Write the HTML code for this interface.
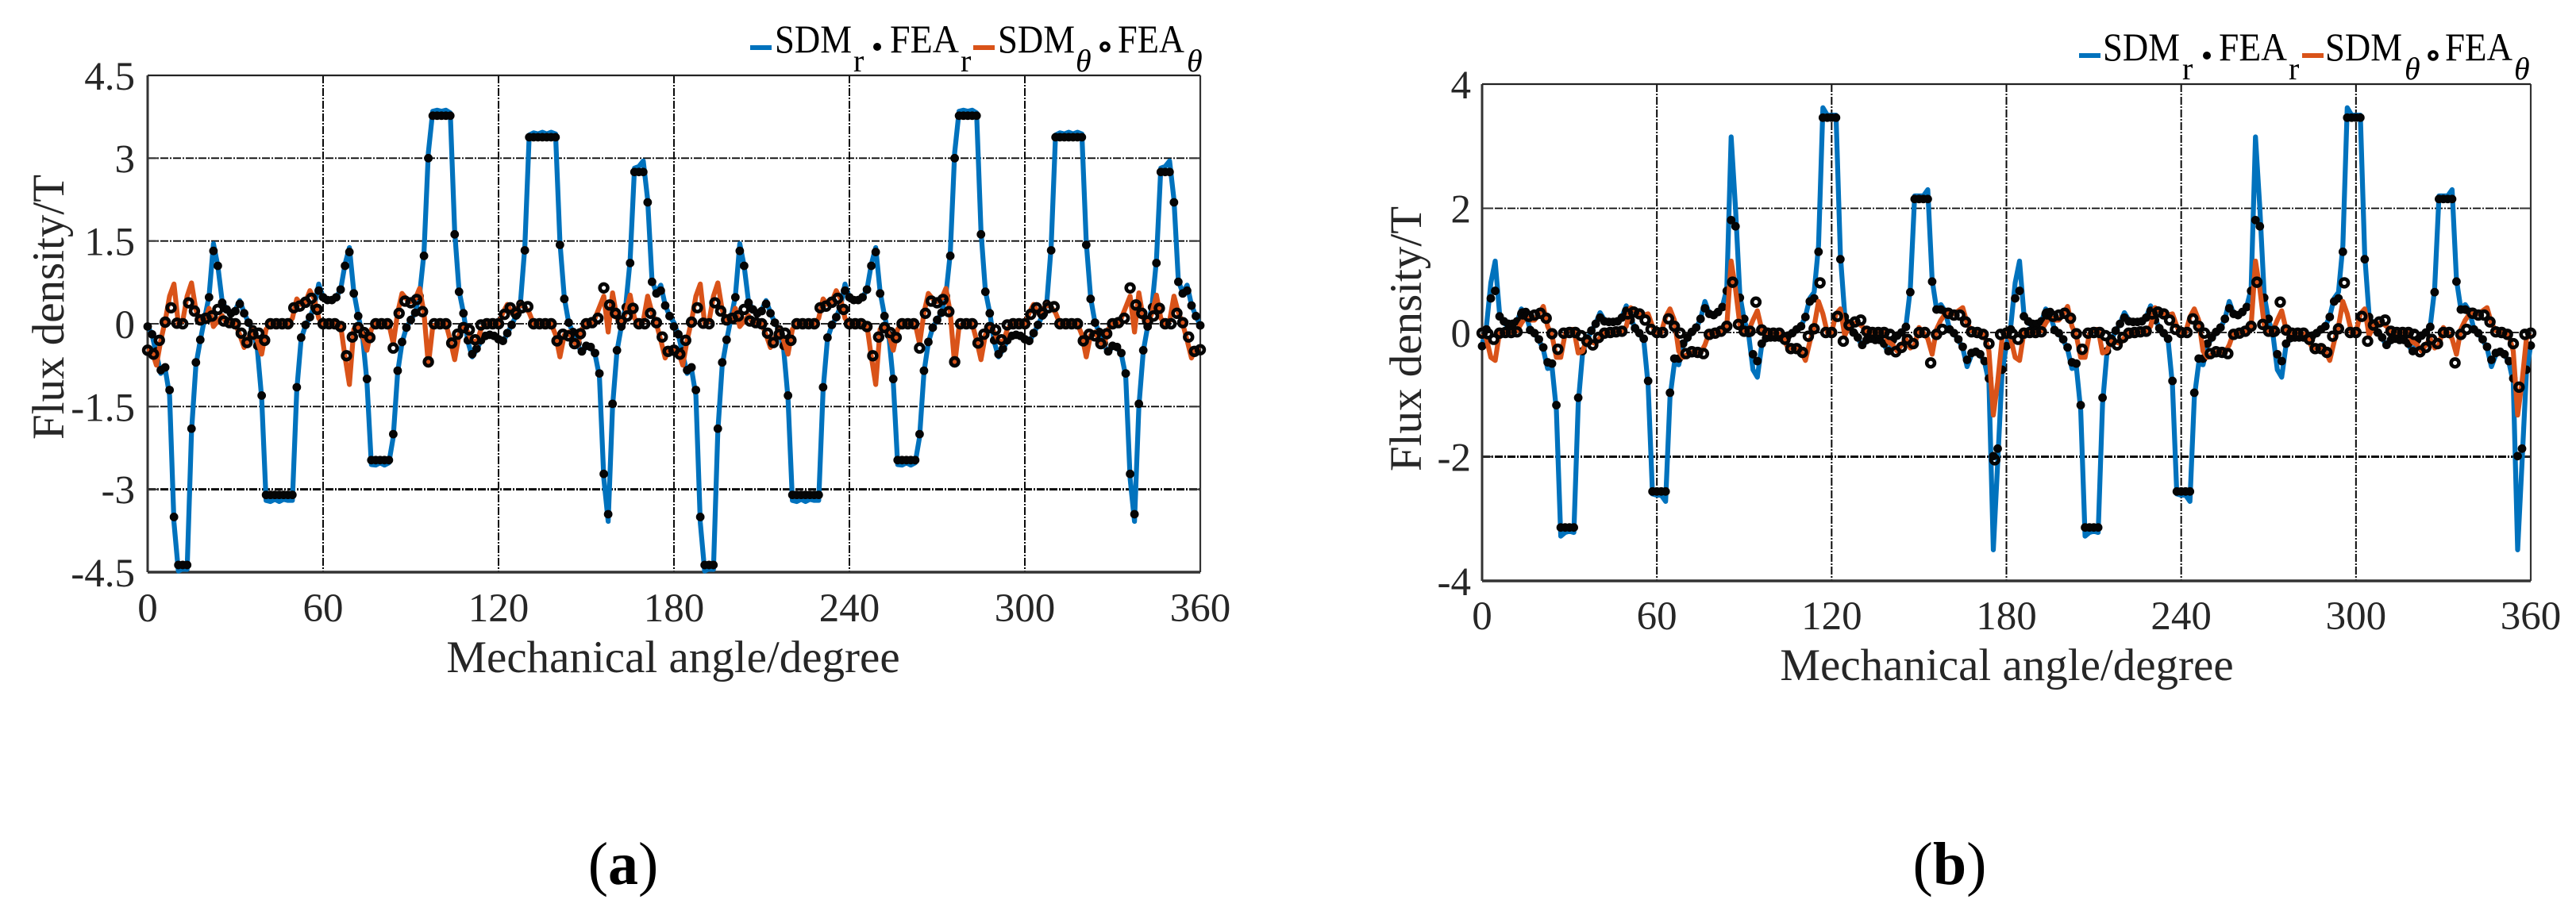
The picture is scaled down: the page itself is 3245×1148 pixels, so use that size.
<!DOCTYPE html>
<html lang="en">
<head>
<meta charset="utf-8">
<title>Flux density charts</title>
<style>
html,body{margin:0;padding:0;background:#fff;}
svg{display:block;font-family:"Liberation Serif",serif;}
.tk{font-size:51px;fill:#262626;}
.ttl{font-size:57px;fill:#262626;}
.lg{font-size:50px;fill:#000;}
.lgs{font-size:40px;fill:#000;}
.lgt{font-size:40px;fill:#000;font-style:italic;}
.cap{font-size:76px;fill:#000;}
</style>
</head>
<body>
<svg id="figure" xmlns="http://www.w3.org/2000/svg" width="3245" height="1148" viewBox="0 0 3245 1148">
<rect width="3245" height="1148" fill="#fff"/>
<g id="chartA"></g>
<g id="chartB"></g>

<g>
<rect x="945" y="57" width="27" height="6" fill="#0072bd"/>
<text class="lg" x="976" y="66" textLength="97" lengthAdjust="spacingAndGlyphs">SDM</text>
<text class="lgs" x="1075" y="90">r</text>
<circle cx="1105" cy="59" r="5" fill="#000"/>
<text class="lg" x="1121" y="66" textLength="87" lengthAdjust="spacingAndGlyphs">FEA</text>
<text class="lgs" x="1210" y="90">r</text>
<rect x="1226" y="57" width="27" height="6" fill="#d95319"/>
<text class="lg" x="1257" y="66" textLength="97" lengthAdjust="spacingAndGlyphs">SDM</text>
<text class="lgt" x="1355" y="90">θ</text>
<circle cx="1392" cy="59" r="4.8" fill="none" stroke="#000" stroke-width="4"/>
<text class="lg" x="1408" y="66" textLength="84" lengthAdjust="spacingAndGlyphs">FEA</text>
<text class="lgt" x="1495" y="90">θ</text>
</g>

<g>
<rect x="2619" y="67" width="27" height="6" fill="#0072bd"/>
<text class="lg" x="2649" y="76" textLength="97" lengthAdjust="spacingAndGlyphs">SDM</text>
<text class="lgs" x="2749" y="100">r</text>
<circle cx="2780" cy="70" r="5" fill="#000"/>
<text class="lg" x="2795" y="76" textLength="86" lengthAdjust="spacingAndGlyphs">FEA</text>
<text class="lgs" x="2883" y="100">r</text>
<rect x="2900" y="67" width="27" height="6" fill="#d95319"/>
<text class="lg" x="2929" y="76" textLength="97" lengthAdjust="spacingAndGlyphs">SDM</text>
<text class="lgt" x="3029" y="100">θ</text>
<circle cx="3065" cy="70" r="4.8" fill="none" stroke="#000" stroke-width="4"/>
<text class="lg" x="3080" y="76" textLength="85" lengthAdjust="spacingAndGlyphs">FEA</text>
<text class="lgt" x="3167" y="100">θ</text>
</g>

<text class="cap" x="785" y="1114" text-anchor="middle">(<tspan font-weight="bold">a</tspan>)</text>
<text class="cap" x="2456" y="1114" text-anchor="middle">(<tspan font-weight="bold">b</tspan>)</text>
</svg>

<script>
const xTickLabels = [0,60,120,180,240,300,360];
const yTicksA = [4.5,3,1.5,0,-1.5,-3,-4.5];
const yTicksB = [4,2,0,-2,-4];
const lineStepDeg = 1.5;
const feaRStepDeg = 1.5;
const feaThetaStepDeg = 2;

const sdmRA = [
-.03,-.2,-.55,-.9,-.82,-1.3,-3.6,-4.48,-4.44,-4.45,-1.95,-.75,-.3,.1,.5,1.45,1.05,.4,.26,.2,.25,.42,.2,.02,-.12,-.45,-1.35,-3.2,-3.22,-3.18,-3.22,-3.18,-3.2,-3.2,-1.2,-.27,-.03,.12,.32,.72,.48,.43,.43,.48,.62,1.08,1.38,.58,.15,-.22,-1.05,-2.55,-2.56,-2.52,-2.56,-2.52,-2.05,-.88,-.34,-.07,.07,.2,.52,1.28,3.1,3.85,3.87,3.85,3.87,3.82,1.68,.6,.2,-.32,-.6,-.47,-.31,-.22,-.2,-.22,-.29,-.33,-.18,-.02,.15,.38,1.4,3.42,3.46,3.44,3.47,3.44,3.47,3.44,1.48,.47,.02,-.16,-.37,-.53,-.41,-.43,-.55,-.95,-2.8,-3.58,-1.5,-.5,-.05,.32,1.15,2.82,2.85,2.95,2.25,.78,.56,.7,.34,.14,
.02,-.2,-.55,-.9,-.82,-1.3,-3.6,-4.48,-4.44,-4.45,-1.95,-.75,-.3,.1,.5,1.45,1.05,.4,.26,.2,.25,.42,.2,.02,-.12,-.45,-1.35,-3.2,-3.22,-3.18,-3.22,-3.18,-3.2,-3.2,-1.2,-.27,-.03,.12,.32,.72,.48,.43,.43,.48,.62,1.08,1.38,.58,.15,-.22,-1.05,-2.55,-2.56,-2.52,-2.56,-2.52,-2.05,-.88,-.34,-.07,.07,.2,.52,1.28,3.1,3.85,3.87,3.85,3.87,3.82,1.68,.6,.2,-.32,-.6,-.47,-.31,-.22,-.2,-.22,-.29,-.33,-.18,-.02,.15,.38,1.4,3.42,3.46,3.44,3.47,3.44,3.47,3.44,1.48,.47,.02,-.16,-.37,-.53,-.41,-.43,-.55,-.95,-2.8,-3.58,-1.5,-.5,-.05,.32,1.15,2.82,2.85,2.95,2.25,.78,.56,.7,.34,.14,-.03
];
const feaRA = [
-.05,-.19,-.5,-.84,-.79,-1.2,-3.5,-4.37,-4.37,-4.37,-1.9,-.7,-.29,.12,.48,1.32,1.05,.38,.26,.19,.23,.36,.19,.02,-.1,-.4,-1.3,-3.1,-3.1,-3.1,-3.1,-3.1,-3.1,-3.1,-1.15,-.25,-.02,.12,.3,.6,.48,.43,.43,.48,.62,1.05,1.3,.55,.14,-.2,-1,-2.47,-2.47,-2.47,-2.47,-2.47,-2,-.85,-.33,-.07,.07,.2,.5,1.23,3,3.77,3.77,3.77,3.77,3.77,1.62,.58,.19,-.3,-.55,-.45,-.3,-.22,-.2,-.22,-.28,-.31,-.17,-.02,.15,.36,1.33,3.38,3.38,3.38,3.38,3.38,3.38,3.38,1.43,.45,.02,-.15,-.35,-.5,-.4,-.42,-.53,-.9,-2.72,-3.45,-1.45,-.48,-.05,.3,1.1,2.75,2.75,2.75,2.2,.76,.55,.6,.33,.14,
-.05,-.19,-.5,-.84,-.79,-1.2,-3.5,-4.37,-4.37,-4.37,-1.9,-.7,-.29,.12,.48,1.32,1.05,.38,.26,.19,.23,.36,.19,.02,-.1,-.4,-1.3,-3.1,-3.1,-3.1,-3.1,-3.1,-3.1,-3.1,-1.15,-.25,-.02,.12,.3,.6,.48,.43,.43,.48,.62,1.05,1.3,.55,.14,-.2,-1,-2.47,-2.47,-2.47,-2.47,-2.47,-2,-.85,-.33,-.07,.07,.2,.5,1.23,3,3.77,3.77,3.77,3.77,3.77,1.62,.58,.19,-.3,-.55,-.45,-.3,-.22,-.2,-.22,-.28,-.31,-.17,-.02,.15,.36,1.33,3.38,3.38,3.38,3.38,3.38,3.38,3.38,1.43,.45,.02,-.15,-.35,-.5,-.4,-.42,-.53,-.9,-2.72,-3.45,-1.45,-.48,-.05,.3,1.1,2.75,2.75,2.75,2.2,.76,.55,.6,.33,.14,-.03
];
const sdmThetaA = [
-.45,-.5,-.75,-.3,.05,.5,.72,0,.05,.5,.74,.25,.05,.05,.28,-.05,.05,.15,0,.03,0,-.2,-.43,-.25,-.12,-.3,-.55,-.1,0,0,0,0,0,.1,.45,.35,.4,.6,.45,.1,0,0,0,0,-.03,-.6,-1.1,-.1,-.02,-.2,-.48,-.1,0,0,0,0,-.36,.2,.55,.45,.4,.45,.64,.2,-.75,-.05,0,0,0,-.3,-.65,-.2,-.05,-.15,-.3,-.35,-.1,0,0,0,0,.2,.35,.2,.25,.35,.3,.2,0,0,0,0,0,-.2,-.6,-.2,-.15,-.3,-.4,-.1,0,0,.1,.3,.5,-.15,.56,.1,0,.2,.52,.1,0,.05,.5,.2,0,-.3,-.62,-.45,
-.45,-.5,-.75,-.3,.05,.5,.72,0,.05,.5,.74,.25,.05,.05,.28,-.05,.05,.15,0,.03,0,-.2,-.43,-.25,-.12,-.3,-.55,-.1,0,0,0,0,0,.1,.45,.35,.4,.6,.45,.1,0,0,0,0,-.03,-.6,-1.1,-.1,-.02,-.2,-.48,-.1,0,0,0,0,-.36,.2,.55,.45,.4,.45,.64,.2,-.75,-.05,0,0,0,-.3,-.65,-.2,-.05,-.15,-.3,-.35,-.1,0,0,0,0,.2,.35,.2,.25,.35,.3,.2,0,0,0,0,0,-.2,-.6,-.2,-.15,-.3,-.4,-.1,0,0,.1,.3,.5,-.15,.56,.1,0,.2,.52,.1,0,.05,.5,.2,0,-.3,-.62,-.45,-.45
];
const feaThetaA = [
-.48,-.55,-.3,.03,.29,.01,0,.38,.23,.07,.1,.14,.26,.05,.02,0,-.17,-.34,-.19,-.17,-.3,0,0,0,0,.29,.32,.39,.46,.26,0,0,0,-.05,-.58,-.24,-.07,-.16,-.25,0,0,0,-.44,.19,.41,.38,.44,.22,-.69,0,0,0,-.35,-.19,-.07,-.11,-.29,-.02,0,0,0,.17,.29,.19,.29,.31,0,0,0,0,-.31,-.19,-.22,-.36,-.18,0,.02,.1,.65,.34,.19,.05,.14,.28,0,0,.19,.02,-.24,-.5,
-.48,-.55,-.3,.03,.29,.01,0,.38,.23,.07,.1,.14,.26,.05,.02,0,-.17,-.34,-.19,-.17,-.3,0,0,0,0,.29,.32,.39,.46,.26,0,0,0,-.05,-.58,-.24,-.07,-.16,-.25,0,0,0,-.44,.19,.41,.38,.44,.22,-.69,0,0,0,-.35,-.19,-.07,-.11,-.29,-.02,0,0,0,.17,.29,.19,.29,.31,0,0,0,0,-.31,-.19,-.22,-.36,-.18,0,.02,.1,.65,.34,.19,.05,.14,.28,0,0,.19,.02,-.24,-.5,-.47
];

const sdmRB = [
-.2,.1,.8,1.15,.3,.15,.1,.1,.17,.38,.3,.05,-.02,-.12,-.27,-.58,-.55,-1.25,-3.28,-3.22,-3.2,-3.22,-1.15,-.33,-.12,.02,.15,.32,.2,.16,.16,.18,.25,.43,.22,.08,-.02,-.12,-.85,-2.6,-2.62,-2.62,-2.72,-1.05,-.5,-.52,-.2,-.1,0,.07,.22,.5,.3,.27,.33,.42,.7,3.15,2,.6,.2,-.03,-.6,-.72,-.2,-.1,-.09,-.09,-.09,-.12,-.06,-.02,.05,.1,.26,.55,.65,1.4,3.62,3.5,3.5,3.5,1.25,.28,.1,0,-.09,-.22,-.14,-.1,-.13,-.13,-.2,-.32,-.13,-.06,0,.1,.7,2.2,2.2,2.2,2.3,.85,.38,.45,.34,.05,-.02,-.12,-.25,-.55,-.36,-.32,-.36,-.48,-.8,-3.5,-2.1,-.65,
-.2,.1,.8,1.15,.3,.15,.1,.1,.17,.38,.3,.05,-.02,-.12,-.27,-.58,-.55,-1.25,-3.28,-3.22,-3.2,-3.22,-1.15,-.33,-.12,.02,.15,.32,.2,.16,.16,.18,.25,.43,.22,.08,-.02,-.12,-.85,-2.6,-2.62,-2.62,-2.72,-1.05,-.5,-.52,-.2,-.1,0,.07,.22,.5,.3,.27,.33,.42,.7,3.15,2,.6,.2,-.03,-.6,-.72,-.2,-.1,-.09,-.09,-.09,-.12,-.06,-.02,.05,.1,.26,.55,.65,1.4,3.62,3.5,3.5,3.5,1.25,.28,.1,0,-.09,-.22,-.14,-.1,-.13,-.13,-.2,-.32,-.13,-.06,0,.1,.7,2.2,2.2,2.2,2.3,.85,.38,.45,.34,.05,-.02,-.12,-.25,-.55,-.36,-.32,-.36,-.48,-.8,-3.5,-2.1,-.65,-.2
];
const feaRB = [
-.22,.05,.55,.67,.26,.18,.14,.14,.18,.3,.33,.04,-.01,-.11,-.24,-.48,-.5,-1.17,-3.14,-3.14,-3.14,-3.14,-1.05,-.3,-.1,.03,.14,.24,.18,.17,.17,.18,.24,.35,.2,.07,-.01,-.1,-.78,-2.56,-2.56,-2.56,-2.56,-.97,-.42,-.42,-.18,-.08,.01,.08,.22,.39,.3,.28,.33,.41,.67,1.81,1.71,.56,.22,-.01,-.35,-.46,-.18,-.09,-.08,-.08,-.08,-.11,-.05,-.01,.05,.1,.25,.5,.55,1.3,3.46,3.46,3.46,3.46,1.18,.25,.1,0,-.08,-.2,-.12,-.1,-.12,-.12,-.18,-.3,-.12,-.05,0,.09,.65,2.15,2.15,2.15,2.15,.82,.37,.37,.33,.05,-.01,-.11,-.23,-.44,-.33,-.31,-.35,-.46,-.74,-1.99,-1.87,-.6,
-.22,.05,.55,.67,.26,.18,.14,.14,.18,.3,.33,.04,-.01,-.11,-.24,-.48,-.5,-1.17,-3.14,-3.14,-3.14,-3.14,-1.05,-.3,-.1,.03,.14,.24,.18,.17,.17,.18,.24,.35,.2,.07,-.01,-.1,-.78,-2.56,-2.56,-2.56,-2.56,-.97,-.42,-.42,-.18,-.08,.01,.08,.22,.39,.3,.28,.33,.41,.67,1.81,1.71,.56,.22,-.01,-.35,-.46,-.18,-.09,-.08,-.08,-.08,-.11,-.05,-.01,.05,.1,.25,.5,.55,1.3,3.46,3.46,3.46,3.46,1.18,.25,.1,0,-.08,-.2,-.12,-.1,-.12,-.12,-.18,-.3,-.12,-.05,0,.09,.65,2.15,2.15,2.15,2.15,.82,.37,.37,.33,.05,-.01,-.11,-.23,-.44,-.33,-.31,-.35,-.46,-.74,-1.99,-1.87,-.6,-.21
];
const sdmThetaB = [
-.02,-.1,-.4,-.45,0,0,0,0,.03,.15,.25,.2,.2,.3,.42,.1,-.05,-.4,-.4,-.02,.05,.05,-.33,-.3,-.1,-.15,-.18,-.08,0,0,0,.02,.02,.1,.4,.35,.3,.28,.3,.1,-.05,0,.25,.38,.2,-.3,-.4,-.35,-.32,-.32,-.33,-.2,0,0,0,.02,.1,1.15,.7,.12,.03,.03,.2,.35,.05,0,0,-.02,-.02,-.1,-.25,-.25,-.25,-.3,-.45,-.15,.1,.5,.3,0,0,.3,.38,-.05,.1,.15,.15,.1,0,0,0,0,0,-.15,-.2,-.3,-.2,-.1,-.25,-.2,.08,0,-.1,-.35,.05,.2,.3,.3,.3,.35,.4,.15,.03,0,0,-.05,-.3,-1.33,-.8,-.1,
-.02,-.1,-.4,-.45,0,0,0,0,.03,.15,.25,.2,.2,.3,.42,.1,-.05,-.4,-.4,-.02,.05,.05,-.33,-.3,-.1,-.15,-.18,-.08,0,0,0,.02,.02,.1,.4,.35,.3,.28,.3,.1,-.05,0,.25,.38,.2,-.3,-.4,-.35,-.32,-.32,-.33,-.2,0,0,0,.02,.1,1.15,.7,.12,.03,.03,.2,.35,.05,0,0,-.02,-.02,-.1,-.25,-.25,-.25,-.3,-.45,-.15,.1,.5,.3,0,0,.3,.38,-.05,.1,.15,.15,.1,0,0,0,0,0,-.15,-.2,-.3,-.2,-.1,-.25,-.2,.08,0,-.1,-.35,.05,.2,.3,.3,.3,.35,.4,.15,.03,0,0,-.05,-.3,-1.33,-.8,-.1,-.02
];
const feaThetaB = [
-.01,-.02,-.11,-.01,0,0,.01,.3,.26,.28,.31,.23,-.02,-.27,-.01,0,0,-.05,-.14,-.2,-.08,-.01,0,.01,.02,.3,.33,.3,.2,.05,0,0,.22,.1,-.01,-.34,-.31,-.32,-.34,-.03,-.01,.02,.1,.81,.13,.02,.02,.49,.04,-.01,-.01,-.01,-.11,-.26,-.26,-.32,-.06,.06,.8,0,0,.26,-.14,.12,.17,.2,.02,0,0,0,-.03,-.31,-.24,-.11,-.18,0,0,-.49,-.03,.05,.31,.28,.28,.17,.01,0,-.03,-.18,-2.05,-.03,
-.01,-.02,-.11,-.01,0,0,.01,.3,.26,.28,.31,.23,-.02,-.27,-.01,0,0,-.05,-.14,-.2,-.08,-.01,0,.01,.02,.3,.33,.3,.2,.05,0,0,.22,.1,-.01,-.34,-.31,-.32,-.34,-.03,-.01,.02,.1,.81,.13,.02,.02,.49,.04,-.01,-.01,-.01,-.11,-.26,-.26,-.32,-.06,.06,.8,0,0,.26,-.14,.12,.17,.2,.02,0,0,0,-.03,-.31,-.24,-.11,-.18,0,0,-.49,-.03,.05,.31,.28,.28,.17,.01,0,-.03,-.18,-.88,-.03,-.01
];

const NS = 'http://www.w3.org/2000/svg';
function mk(tag, attrs, parent) {
  const el = document.createElementNS(NS, tag);
  for (const k in attrs) el.setAttribute(k, attrs[k]);
  parent.appendChild(el);
  return el;
}

function drawChart(root, cfg) {
  const L = cfg.left, R = cfg.right, T = cfg.top, B = cfg.bottom;
  const sx = a => L + (a / 360) * (R - L);
  const sy = v => T + ((cfg.yMax - v) / (cfg.yMax - cfg.yMin)) * (B - T);
  const dash = '10 2 2 2';

  cfg.yTicks.forEach(v => {
    const y = sy(v);
    if (v !== cfg.yMax && v !== cfg.yMin) {
      const g = mk('line', {x1:L, x2:R, y1:y, y2:y, stroke:'#0a0a0a', 'stroke-width': Math.abs(v - cfg.heavyY) < 1e-6 ? 3 : 1.8, 'stroke-dasharray':dash}, root);
      
      
      const t1 = mk('line', {x1:L, x2:L + 14, y1:y, y2:y, stroke:'#333', 'stroke-width':2}, root);
      
      
      const t2 = mk('line', {x1:R - 14, x2:R, y1:y, y2:y, stroke:'#333', 'stroke-width':2}, root);
      
      
    }
    const lab = mk('text', {x:cfg.yLabelX, y:y + 18, 'text-anchor':'end', class:'tk'}, root);
    lab.textContent = String(v);
    
    
  });

  xTickLabels.forEach(a => {
    const x = sx(a);
    if (a !== 0 && a !== 360) {
      const g = mk('line', {x1:x, x2:x, y1:T, y2:B, stroke:'#0a0a0a', 'stroke-width':2, 'stroke-dasharray':dash}, root);
      
      
    }
    const lab = mk('text', {x:x, y:cfg.xLabelY, 'text-anchor':'middle', class:'tk'}, root);
    lab.textContent = String(a);
    
    
  });

  const top = mk('line', {x1:L, x2:R, y1:T, y2:T, stroke:'#222', 'stroke-width':2.2}, root);
  
  
  const right = mk('line', {x1:R, x2:R, y1:T, y2:B, stroke:'#333', 'stroke-width':2.2}, root);
  
  
  const left = mk('line', {x1:L, x2:L, y1:T, y2:B, stroke:'#333', 'stroke-width':3}, root);
  
  
  const bottom = mk('line', {x1:L, x2:R, y1:B, y2:B, stroke:'#333', 'stroke-width':3.4}, root);
  
  

  const pathOf = (arr, step) => arr.map((v, i) => (i ? 'L' : 'M') + sx(i * step).toFixed(2) + ' ' + sy(v).toFixed(2)).join('');

  const blue = mk('path', {d:pathOf(cfg.sdmR, lineStepDeg), fill:'none', stroke:'#0072bd', 'stroke-width':6.2, 'stroke-linejoin':'round'}, root);
  
  

  cfg.feaR.forEach((v, i) => {
    const c = mk('circle', {cx:sx(i * feaRStepDeg), cy:sy(v), r:5.4, fill:'#050505'}, root);
    
    
  });

  const orange = mk('path', {d:pathOf(cfg.sdmTheta, lineStepDeg), fill:'none', stroke:'#d95319', 'stroke-width':6.2, 'stroke-linejoin':'round'}, root);
  
  

  cfg.feaTheta.forEach((v, i) => {
    const c = mk('circle', {cx:sx(i * feaThetaStepDeg), cy:sy(v), r:4.9, fill:'none', stroke:'#050505', 'stroke-width':4.6}, root);
    
    
  });

  const xt = mk('text', {x:cfg.xTitleX, y:cfg.xTitleY, 'text-anchor':'middle', class:'ttl'}, root);
  xt.textContent = 'Mechanical angle/degree';
  
  
  const yt = mk('text', {x:0, y:0, 'text-anchor':'middle', class:'ttl', transform:'translate(' + cfg.yTitleX + ' ' + cfg.yTitleY + ') rotate(-90)'}, root);
  yt.textContent = 'Flux density/T';
  
  
}

drawChart(document.getElementById('chartA'), {
  left:186, right:1512, top:95, bottom:721, yMax:4.5, yMin:-4.5, heavyY:-3,
  yTicks:yTicksA, yLabelX:170, xLabelY:783, xTitleX:848, xTitleY:847, yTitleX:80, yTitleY:387,
  sdmR:sdmRA, feaR:feaRA, sdmTheta:sdmThetaA, feaTheta:feaThetaA
});
drawChart(document.getElementById('chartB'), {
  left:1867, right:3188, top:106, bottom:732, yMax:4, yMin:-4, heavyY:-2,
  yTicks:yTicksB, yLabelX:1853, xLabelY:793, xTitleX:2528, xTitleY:857, yTitleX:1790, yTitleY:427,
  sdmR:sdmRB, feaR:feaRB, sdmTheta:sdmThetaB, feaTheta:feaThetaB
});
</script>
</body>
</html>
